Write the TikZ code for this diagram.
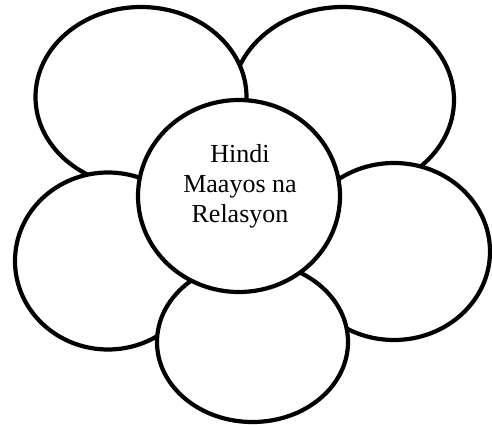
\documentclass[tikz,border=0pt]{standalone}
\usepackage{fontspec}
\setmainfont{Liberation Serif}
\usetikzlibrary{shapes.geometric}
\begin{document}
\begin{tikzpicture}[x=1pt,y=-1pt,
  petal/.style={ellipse,draw=black,fill=white,line width=4.2pt,inner sep=0pt}]
\useasboundingbox (0,0) rectangle (492,425);
\node[petal,minimum width=222pt,minimum height=186pt] (tr) at (343,100) {};
\node[petal,minimum width=211pt,minimum height=180pt] (tl) at (141,97) {};
\node[petal,minimum width=186pt,minimum height=177pt] (l) at (108,261) {};
\node[petal,minimum width=192pt,minimum height=177pt] (r) at (394,251.5) {};
\node[petal,minimum width=191pt,minimum height=160pt] (b) at (252.5,342) {};
\node[petal,minimum width=202pt,minimum height=192pt] (c) at (239,196) {};
\node[align=center,font=\fontsize{26}{30}\selectfont,inner sep=0pt] (t) at (240,186)
  {Hindi\\Maayos na\\Relasyon};
\end{tikzpicture}
\end{document}
